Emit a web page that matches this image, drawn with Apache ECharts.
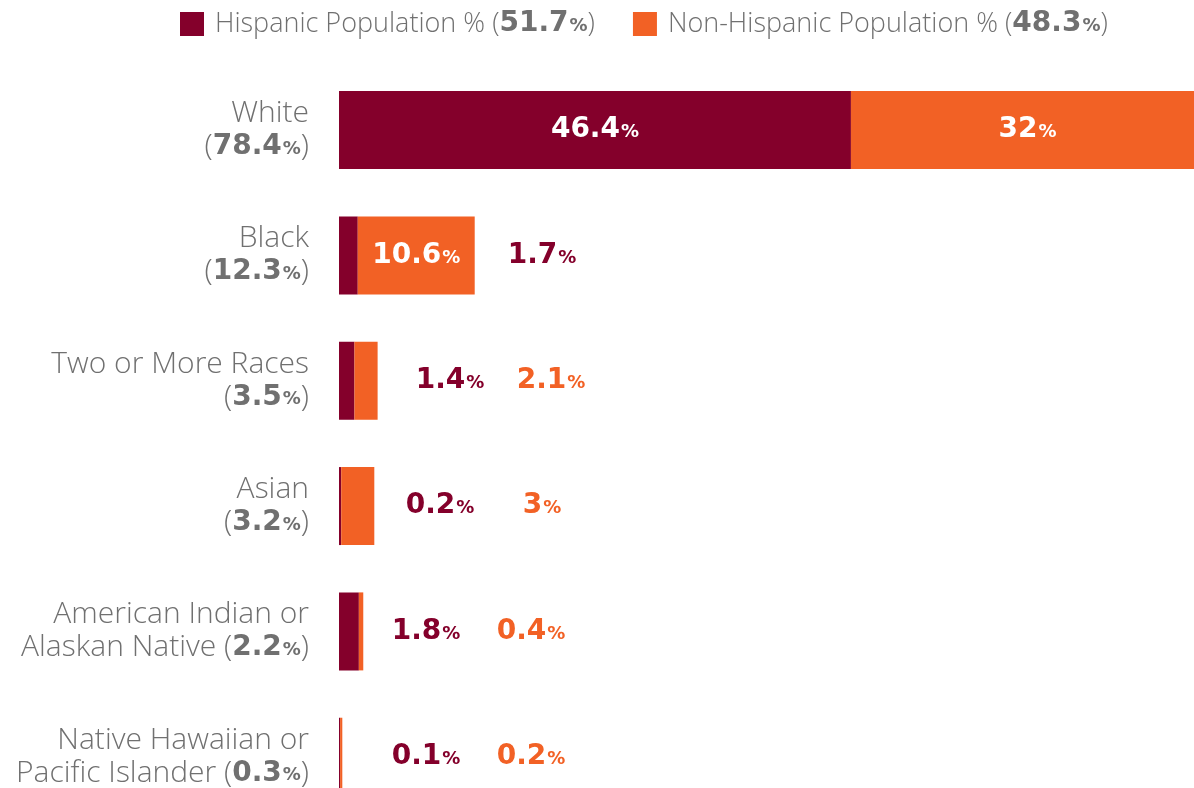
<!DOCTYPE html>
<html>
<head>
<meta charset="utf-8">
<script src="https://cdn.jsdelivr.net/npm/echarts@6/dist/echarts.min.js"></script>
<style>
  html, body { margin: 0; padding: 0; background: #fff; }
  #main { width: 1194px; height: 788px; }
</style>
</head>
<body>
<div id="main"></div>
<script>
// race groups, top to bottom
const categories = ['White', 'Black', 'Two or More Races', 'Asian', 'American Indian or\nAlaskan Native', 'Native Hawaiian or\nPacific Islander']
const totals = ['78.4', '12.3', '3.5', '3.2', '2.2', '0.3']
const hispanic = [46.4, 1.7, 1.4, 0.2, 1.8, 0.1]
const nonHispanic = [32, 10.6, 2.1, 3, 0.4, 0.2]
const legendNames = ['Hispanic Population %', 'Non-Hispanic Population %']
const legendTotals = ['51.7', '48.3']

const MAROON = '#84002b'
const ORANGE = '#f26125'
const GREY = '#707070'
const NUMFONT = 'DejaVu Sans'
const TXTFONT = 'Open Sans'

// layout (grid runs a bit past the right/bottom edge, the white bar is cut off)
const gridLeft = 339, gridWidth = 865, xMax = 78.4
const pxPerUnit = gridWidth / xMax
// which labels sit inside the bar, and where the outside ones are centred (px)
const hispInside = [true, false, false, false, false, false]
const nonInside = [true, true, false, false, false, false]
const hispLabelX = [0, 542, 450, 440, 426, 426]
const nonLabelX = [0, 0, 551, 542, 531, 531]

const chart = echarts.init(document.getElementById('main'))

const numRich = (color) => ({
	n: { fontFamily: NUMFONT, fontWeight: 'bold', fontSize: 28, color: color },
	p: { fontFamily: NUMFONT, fontWeight: 'bold', fontSize: 18, color: color, padding: [5, 0, 0, 1] }
})

const makeData = (values, inside, labelX, color, startOf) => values.map((v, i) => {
	if (inside[i]) {
		return { value: v, label: { position: 'inside', rich: numRich('#fff') } }
	}
	return {
		value: v,
		label: {
			position: [labelX[i] - startOf(i), '50%'],
			align: 'center',
			verticalAlign: 'middle',
			rich: numRich(color)
		}
	}
})

const option = {
	animation: false,
	legend: {
		top: 5,
		left: 175,
		itemWidth: 24,
		itemHeight: 24,
		itemGap: 38,
		icon: 'rect',
		data: legendNames,
		formatter: (name) => {
			const i = legendNames.indexOf(name)
			return name + ' ({b|' + legendTotals[i] + '}{p|%})'
		},
		textStyle: {
			fontFamily: TXTFONT,
			fontWeight: 300,
			fontSize: 27,
			color: GREY,
			padding: [0, 0, 0, 6],
			rich: {
				b: { fontFamily: NUMFONT, fontWeight: 'bold', fontSize: 28, color: GREY },
				p: { fontFamily: NUMFONT, fontWeight: 'bold', fontSize: 18, color: GREY, padding: [5, 0, 0, 1] }
			}
		}
	},
	grid: {
		left: gridLeft,
		width: gridWidth,
		top: 67.4,
		height: 752,
		containLabel: false,
		outerBoundsMode: 'none'
	},
	xAxis: {
		type: 'value',
		min: 0,
		max: xMax,
		show: false
	},
	yAxis: {
		type: 'category',
		inverse: true,
		data: categories,
		axisLine: { show: false },
		axisTick: { show: false },
		axisLabel: {
			margin: 30,
			fontFamily: TXTFONT,
			fontWeight: 300,
			fontSize: 30,
			lineHeight: 33,
			color: GREY,
			align: 'right',
			formatter: (name, i) => {
				const sep = name.indexOf('\n') >= 0 ? ' ' : '\n'
				return name + sep + '({b|' + totals[i] + '}{p|%})'
			},
			rich: {
				b: { fontFamily: NUMFONT, fontWeight: 'bold', fontSize: 28, color: GREY, lineHeight: 33 },
				p: { fontFamily: NUMFONT, fontWeight: 'bold', fontSize: 18, color: GREY, lineHeight: 33, padding: [5, 0, 0, 1] }
			}
		}
	},
	series: [{
		name: legendNames[0],
		type: 'bar',
		stack: 'pop',
		barWidth: 78,
		itemStyle: { color: MAROON },
		label: { show: true, formatter: (p) => '{n|' + p.value + '}{p|%}' },
		data: makeData(hispanic, hispInside, hispLabelX, MAROON, () => gridLeft)
	}, {
		name: legendNames[1],
		type: 'bar',
		stack: 'pop',
		barWidth: 78,
		itemStyle: { color: ORANGE },
		label: { show: true, formatter: (p) => '{n|' + p.value + '}{p|%}' },
		data: makeData(nonHispanic, nonInside, nonLabelX, ORANGE, (i) => gridLeft + hispanic[i] * pxPerUnit)
	}]
}

chart.setOption(option)
</script>
</body>
</html>
